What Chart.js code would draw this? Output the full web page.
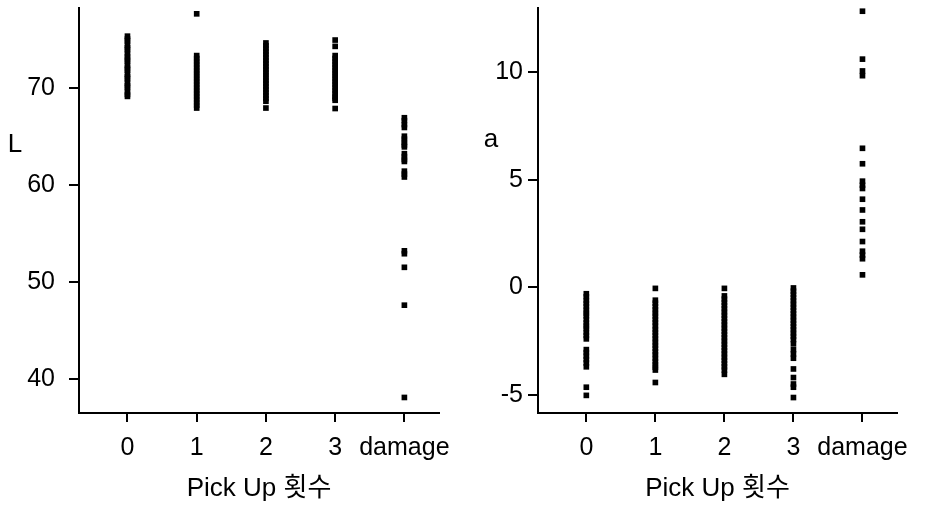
<!DOCTYPE html>
<html>
<head>
<meta charset="utf-8">
<script src="https://cdn.jsdelivr.net/npm/chart.js@4.4.0/dist/chart.umd.min.js"></script>
<style>
  body { margin: 0; background: #fff; }
  #left, #right { position: absolute; top: 0; }
  #left { left: 0; }
  #right { left: 463px; }
</style>
</head>
<body>
<canvas id="left" width="463" height="510"></canvas>
<canvas id="right" width="463" height="510"></canvas>
<script>
// x categories (Pick Up count)
const categories = ['0', '1', '2', '3', 'damage'];

// L values per group
const L0 = [75.3, 75.0, 74.8, 74.4, 74.1, 73.9, 73.5, 73.2, 72.9, 72.7, 72.3, 72.0, 71.8, 71.4, 71.1, 70.9, 70.5, 70.2, 70.0, 69.6, 69.3, 69.1];
const L1 = [77.6, 73.3, 73.0, 72.7, 72.4, 72.1, 71.8, 71.5, 71.2, 70.9, 70.6, 70.3, 70.0, 69.7, 69.4, 69.1, 68.8, 68.5, 68.2, 67.9];
const L2 = [74.6, 74.3, 74.0, 73.7, 73.4, 73.1, 72.8, 72.5, 72.2, 71.9, 71.6, 71.3, 71.0, 70.7, 70.4, 70.1, 69.8, 69.5, 69.2, 68.9, 68.6, 67.9];
const L3 = [74.9, 74.25, 73.3, 73.0, 72.7, 72.4, 72.1, 71.8, 71.5, 71.2, 70.9, 70.6, 70.3, 70.0, 69.7, 69.4, 69.1, 68.9, 68.7, 67.85];
const Ldamage = [66.9, 66.6, 66.2, 65.9, 65.0, 64.7, 64.4, 64.1, 63.9, 63.2, 62.9, 62.6, 62.4, 61.4, 61.1, 60.8, 53.2, 52.9, 51.5, 47.6, 38.1];

// a values per group
const a0 = [-0.3, -0.44, -0.61, -0.75, -0.9, -1.06, -1.2, -1.33, -1.5, -1.66, -1.8, -1.93, -2.1, -2.24, -2.4, -2.9, -3.04, -3.2, -3.36, -3.52, -3.7, -4.65, -5.03];
const a1 = [-0.05, -0.6, -0.74, -0.9, -1.05, -1.2, -1.34, -1.5, -1.64, -1.8, -1.96, -2.1, -2.25, -2.4, -2.55, -2.7, -2.84, -3.0, -3.14, -3.3, -3.45, -3.6, -3.72, -3.85, -4.43];
const a2 = [-0.05, -0.4, -0.55, -0.7, -0.85, -1.0, -1.15, -1.3, -1.45, -1.6, -1.75, -1.9, -2.05, -2.2, -2.35, -2.5, -2.65, -2.8, -2.95, -3.1, -3.25, -3.4, -3.55, -3.7, -3.85, -4.05];
const a3 = [-0.03, -0.18, -0.33, -0.48, -0.63, -0.78, -0.93, -1.08, -1.23, -1.38, -1.53, -1.68, -1.83, -1.98, -2.13, -2.28, -2.43, -2.63, -2.9, -3.1, -3.3, -3.8, -4.2, -4.5, -4.65, -5.13];
const aDamage = [12.85, 10.62, 10.07, 9.85, 6.47, 5.75, 4.94, 4.75, 4.6, 4.1, 3.6, 3.05, 2.7, 2.13, 1.68, 1.5, 1.33, 0.58];

// tick labels
const lTicks = [40, 50, 60, 70];
const aTicks = [-5, 0, 5, 10];

Chart.defaults.color = '#000';
Chart.defaults.font.family = '"Liberation Sans", Arial, sans-serif';

function toPoints(groups) {
    const pts = [];
    groups.forEach((vals, i) => vals.forEach(v => pts.push({ x: i, y: v })));
    return pts;
}

// draws the horizontal y-axis label (L / a)
const yLabelPlugin = {
    id: 'yLabel',
    afterDraw(chart, args, opts) {
        const ctx = chart.ctx;
        ctx.save();
        ctx.fillStyle = '#000';
        ctx.font = '26px "Liberation Sans", Arial, sans-serif';
        ctx.textAlign = 'center';
        ctx.textBaseline = 'alphabetic';
        ctx.fillText(opts.text, opts.x, opts.y);
        ctx.restore();
    }
};

function axisGrid(len) {
    return {
        display: true,
        drawOnChartArea: false,
        drawTicks: true,
        tickLength: len,
        tickWidth: 2,
        tickColor: '#000',
        color: '#000',
        lineWidth: 2
    };
}

function makeOptions(yMin, yMax, yTicks, yWidth, yPad, padRight, label) {
    return {
        responsive: false,
        animation: false,
        layout: { padding: { top: 8, right: padRight, bottom: 0, left: 0 } },
        plugins: {
            legend: { display: false },
            tooltip: { enabled: false },
            yLabel: label
        },
        scales: {
            x: {
                type: 'linear',
                min: -0.7,
                max: 4.5,
                afterBuildTicks: s => { s.ticks = categories.map((c, i) => ({ value: i })); },
                afterFit: s => { s.height = 97; s.paddingLeft = 0; s.paddingRight = 0; },
                grid: axisGrid(9),
                border: { display: true, color: '#000', width: 2 },
                ticks: {
                    padding: 11,
                    maxRotation: 0,
                    minRotation: 0,
                    autoSkip: false,
                    font: { size: 25 },
                    callback: v => categories[v]
                },
                title: {
                    display: true,
                    text: 'Pick Up 횟수',
                    font: { size: 26, family: '"Liberation Sans", "Noto Sans CJK KR", sans-serif' },
                    padding: { top: 0, bottom: 6 }
                }
            },
            y: {
                min: yMin,
                max: yMax,
                afterBuildTicks: s => { s.ticks = yTicks.map(v => ({ value: v })); },
                afterFit: s => { s.width = yWidth; s.paddingTop = 0; s.paddingBottom = 0; },
                grid: axisGrid(10),
                border: { display: true, color: '#000', width: 2 },
                ticks: { padding: yPad, font: { size: 25 } }
            }
        }
    };
}

function makeDataset(groups) {
    return {
        datasets: [{
            data: toPoints(groups),
            pointStyle: 'rect',
            pointRadius: 4,
            pointBorderWidth: 0,
            backgroundColor: '#000',
            borderColor: '#000'
        }]
    };
}

// L chart
new Chart(document.getElementById('left'), {
    type: 'scatter',
    data: makeDataset([L0, L1, L2, L3, Ldamage]),
    options: makeOptions(36.5, 78.2, lTicks, 79, 14, 24, { text: 'L', x: 15, y: 152 }),
    plugins: [yLabelPlugin]
});

// a chart
new Chart(document.getElementById('right'), {
    type: 'scatter',
    data: makeDataset([a0, a1, a2, a3, aDamage]),
    options: makeOptions(-5.85, 13.0, aTicks, 75, 5, 29, { text: 'a', x: 28, y: 147 }),
    plugins: [yLabelPlugin]
});
</script>
</body>
</html>
